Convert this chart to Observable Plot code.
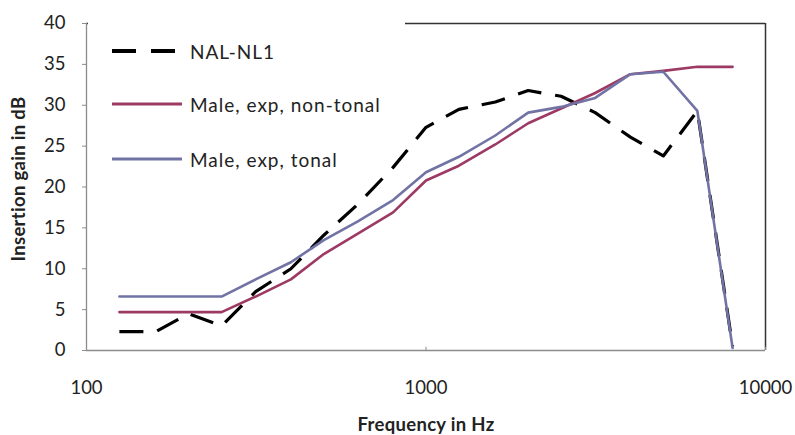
<!DOCTYPE html>
<html>
<head>
<meta charset="utf-8">
<script src="https://cdn.jsdelivr.net/npm/d3@7"></script>
<script src="https://cdn.jsdelivr.net/npm/@observablehq/plot@0.6"></script>
<style>
  html, body { margin: 0; padding: 0; background: #fff; }
  #wrap { position: relative; width: 795px; height: 435px; font-family: Lato, "Open Sans", sans-serif; color: #222; }
  #legend { position: absolute; left: 88px; top: 17px; width: 317px; height: 132px; background: #fff; }
  .item { position: absolute; left: 0; height: 20px; display: flex; align-items: center; font-size: 19px; white-space: nowrap; letter-spacing: 1px; }
  .item svg { margin-left: 24px; margin-right: 8px; }
  .ytitle { position: absolute; left: 18px; top: 179px; transform: translate(-50%, -50%) rotate(-90deg); font-weight: bold; font-size: 18.5px; white-space: nowrap; letter-spacing: 0.3px; }
  .xtitle { position: absolute; left: 426px; top: 424px; transform: translate(-50%, -50%); font-weight: bold; font-size: 18.5px; white-space: nowrap; letter-spacing: 0.3px; }
</style>
</head>
<body>
<div id="wrap"></div>
<script>
// Frequencies (Hz), 1/3-octave points
const freqs = [125, 160, 200, 250, 315, 400, 500, 630, 800, 1000, 1250, 1600, 2000, 2500, 3150, 4000, 5000, 6300, 8000];
// Insertion gain (dB)
const nalNl1       = [2.3, 2.3, 4.5, 3.0, 7.2, 10.0, 14.1, 17.9, 22.4, 27.3, 29.5, 30.4, 31.8, 31.1, 29.1, 26.1, 23.8, 29.3, 0.5];
const maleNonTonal = [4.7, 4.7, 4.7, 4.7, 6.6, 8.7, 11.8, 14.3, 16.9, 20.8, 22.6, 25.2, 27.8, 29.6, 31.5, 33.8, 34.2, 34.7, 34.7];
const maleTonal    = [6.6, 6.6, 6.6, 6.6, 8.7, 10.8, 13.5, 15.8, 18.4, 21.8, 23.7, 26.3, 29.1, 29.8, 30.9, 33.8, 34.1, 29.3, 0.3];
const seriesNames  = ["NAL-NL1", "Male, exp, non-tonal", "Male, exp, tonal"];
const yTicks = [0, 5, 10, 15, 20, 25, 30, 35, 40];
const xTicks = [100, 1000, 10000];
const xTitle = "Frequency in Hz";
const yTitle = "Insertion gain in dB";

const colors = { nal: "#000000", red: "#9c3a63", blue: "#7173a5" };

const toRows = (vals) => freqs.map((f, i) => ({ f, v: vals[i] }));
const nalRows = toRows(nalNl1);
const redRows = toRows(maleNonTonal);
const blueRows = toRows(maleTonal);

const chart = Plot.plot({
  width: 795,
  height: 435,
  marginLeft: 86,
  marginRight: 30,
  marginTop: 23,
  marginBottom: 85,
  style: { fontFamily: "Lato, 'Open Sans', sans-serif", background: "#fff", color: "#222" },
  x: { type: "log", domain: [100, 10000] },
  y: { domain: [0, 40] },
  marks: [
    Plot.ruleY([40], { stroke: "#333", strokeWidth: 1.5 }),
    Plot.ruleX([10000], { stroke: "#333", strokeWidth: 1.5 }),
    Plot.ruleX([100], { stroke: "#8c8c8c", strokeWidth: 1.3 }),
    Plot.ruleY([0], { stroke: "#8c8c8c", strokeWidth: 1.3 }),
    Plot.axisY({ ticks: yTicks, tickSize: 4, tickPadding: 17, stroke: "#8c8c8c", fontSize: 18.5, label: null, tickFormat: d => String(d) }),
    Plot.axisX({ ticks: xTicks, tickSize: 0, tickPadding: 30, fontSize: 18.5, label: null, tickFormat: d => String(d) }),
    Plot.ruleX(xTicks, { x: d => d, y1: 0, y2: 0.4, stroke: "#8c8c8c" }),
    Plot.line(nalRows, { x: "f", y: "v", stroke: colors.nal, strokeWidth: 3.2, strokeDasharray: "24,14", strokeLinecap: "butt" }),
    Plot.line(redRows, { x: "f", y: "v", stroke: colors.red, strokeWidth: 2.6 }),
    Plot.line(blueRows, { x: "f", y: "v", stroke: colors.blue, strokeWidth: 2.6 })
  ]
});

const wrap = document.getElementById("wrap");
wrap.appendChild(chart);

// legend overlay (inside plot area, white box hides part of the top border)
const legend = document.createElement("div");
legend.id = "legend";
const items = [
  { name: seriesNames[0], color: colors.nal, dash: "24,15", w: 4, len: 64, top: 24 },
  { name: seriesNames[1], color: colors.red, dash: null, w: 3, len: 70, top: 77 },
  { name: seriesNames[2], color: colors.blue, dash: null, w: 3, len: 70, top: 132 }
];
for (const it of items) {
  const d = document.createElement("div");
  d.className = "item";
  d.style.top = it.top + "px";
  const ns = "http://www.w3.org/2000/svg";
  const s = document.createElementNS(ns, "svg");
  s.setAttribute("width", it.len);
  s.setAttribute("height", 8);
  if (it.dash) s.style.marginRight = "14px";
  const l = document.createElementNS(ns, "line");
  l.setAttribute("x1", 0); l.setAttribute("x2", it.len);
  l.setAttribute("y1", 4); l.setAttribute("y2", 4);
  l.setAttribute("stroke", it.color);
  l.setAttribute("stroke-width", it.w);
  if (it.dash) l.setAttribute("stroke-dasharray", it.dash);
  s.appendChild(l);
  d.appendChild(s);
  const t = document.createElement("span");
  t.textContent = it.name;
  d.appendChild(t);
  legend.appendChild(d);
}
wrap.appendChild(legend);

const yt = document.createElement("div");
yt.className = "ytitle"; yt.textContent = yTitle;
wrap.appendChild(yt);
const xt = document.createElement("div");
xt.className = "xtitle"; xt.textContent = xTitle;
wrap.appendChild(xt);
</script>
</body>
</html>
